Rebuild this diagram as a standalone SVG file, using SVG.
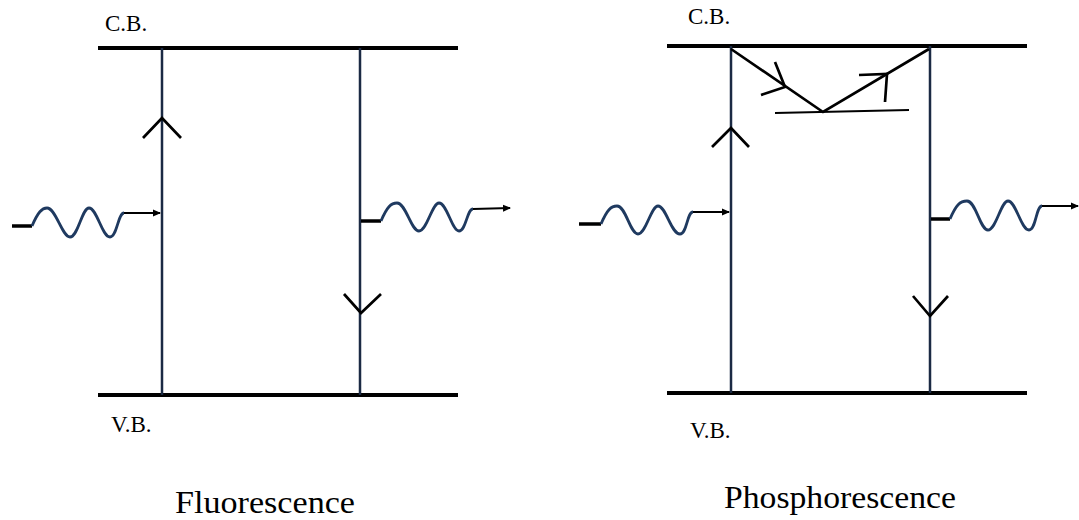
<svg xmlns="http://www.w3.org/2000/svg" width="1079" height="520" viewBox="0 0 1079 520">
<style>
.band{stroke:#000;stroke-width:4;fill:none}
.tr{stroke:#1b2a44;stroke-width:2.5;fill:none}
.chev{stroke:#000;stroke-width:2.7;fill:none}
.wave{stroke:#1f3a60;stroke-width:2.8;fill:none}
.lead{stroke:#000;stroke-width:3.5;fill:none}
.ph{stroke:#000;stroke-width:2;fill:none}
.lbl{font-family:"Liberation Serif",serif;font-size:23px;fill:#000}
.ttl{font-family:"Liberation Serif",serif;font-size:31px;fill:#000}
</style>
<defs>
<marker id="ah" markerWidth="8" markerHeight="8" refX="7" refY="4" orient="auto" markerUnits="userSpaceOnUse">
<path d="M0,0.5 L8,4 L0,7.5 Z" fill="#000"/>
</marker>
</defs>
<rect width="1079" height="520" fill="#fff"/>
<g id="fluorescence">
<line class="band" x1="98" y1="48" x2="458" y2="48"/>
<line class="band" x1="98" y1="395" x2="458" y2="395"/>
<text class="lbl" x="105" y="31">C.B.</text>
<text class="lbl" x="111" y="432">V.B.</text>
<text class="ttl" x="175" y="513" textLength="180" lengthAdjust="spacingAndGlyphs">Fluorescence</text>
</g>
<g id="phosphorescence">
<line class="band" x1="667" y1="46" x2="1027" y2="46"/>
<line class="band" x1="667" y1="393" x2="1027" y2="393"/>
<text class="lbl" x="688" y="24">C.B.</text>
<text class="lbl" x="690" y="438">V.B.</text>
<text class="ttl" x="724" y="508" textLength="232" lengthAdjust="spacingAndGlyphs">Phosphorescence</text>
</g>
<g id="connectors">
<line class="tr" x1="162" y1="48" x2="162" y2="395"/>
<polyline class="chev" points="143,138 162,118 181,138"/>
<line class="tr" x1="360" y1="48" x2="360" y2="395"/>
<polyline class="chev" points="344,294 361,313 381,294"/>
<line class="lead" x1="12" y1="226" x2="32" y2="226"/>
<path class="wave" d="M32,226 C38,212 42,208 47,208 C56,208 62,237 70,237 C78,237 82,208 89,208 C97,208 102,237 110,237 C117,237 118,213 124,213"/>
<line class="ph" x1="124" y1="213" x2="160" y2="213" marker-end="url(#ah)"/>
<line class="lead" x1="361" y1="221" x2="381" y2="221"/>
<path class="wave" d="M381,221 C387,207 391,203 397,203 C406,203 411,231 419,231 C427,231 432,203 439,203 C447,203 452,231 459,231 C466,231 467,209 473,209"/>
<line class="ph" x1="473" y1="209" x2="510" y2="208" marker-end="url(#ah)"/>
<line class="tr" x1="731" y1="46" x2="731" y2="393"/>
<polyline class="chev" points="712,147 731,128 749,147"/>
<line class="tr" x1="930" y1="46" x2="930" y2="393"/>
<polyline class="chev" points="913,296 930,316 948,296"/>
<polyline class="chev" points="731,49 823,112 929,49"/>
<line class="ph" x1="775" y1="113" x2="909" y2="110"/>
<polyline class="chev" points="775,62 785,87 761,95"/>
<polyline class="chev" points="859,75 887,74 885,102"/>
<line class="lead" x1="579" y1="224" x2="601" y2="224"/>
<path class="wave" d="M601,224 C607,210 611,206 617,206 C626,206 630,234 638,234 C646,234 651,206 658,206 C666,206 671,234 680,234 C687,234 687,212 693,212"/>
<line class="ph" x1="693" y1="212" x2="729" y2="212" marker-end="url(#ah)"/>
<line class="lead" x1="931" y1="219" x2="950" y2="219"/>
<path class="wave" d="M950,219 C956,205 960,201 967,201 C976,201 980,230 988,230 C996,230 1001,201 1008,201 C1016,201 1021,230 1029,230 C1036,230 1036,206 1042,206"/>
<line class="ph" x1="1042" y1="206" x2="1078" y2="206" marker-end="url(#ah)"/>
</g>
</svg>
